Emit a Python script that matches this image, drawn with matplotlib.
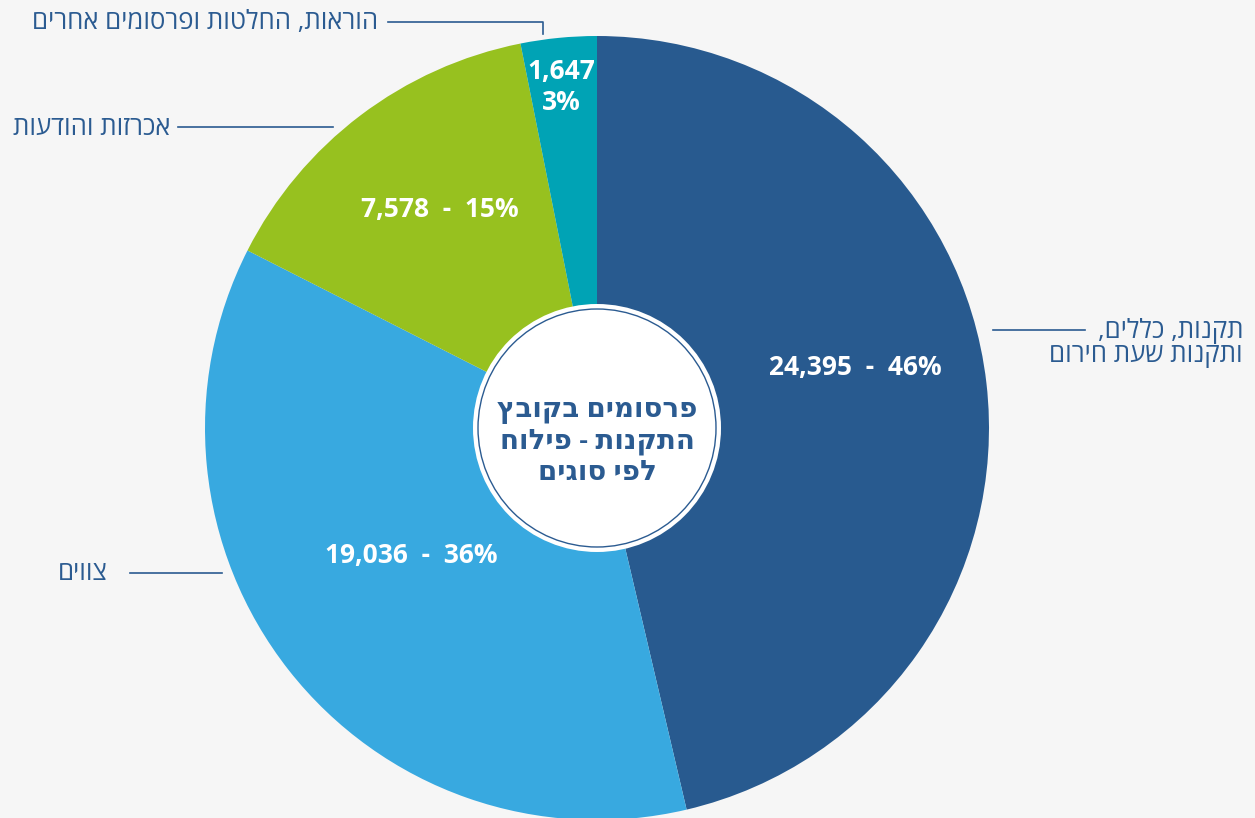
import matplotlib.pyplot as plt
from matplotlib.patches import Circle

# data
categories = ['תקנות, כללים,\nותקנות שעת חירום', 'צווים', 'אכרזות והודעות', 'הוראות, החלטות ופרסומים אחרים']
values = [24395, 19036, 7578, 1647]
percents = [46, 36, 15, 3]
colors = ['#285a8f', '#38a9e0', '#97c11f', '#00a3b5']
center_title = ['פרסומים בקובץ', 'התקנות - פילוח', 'לפי סוגים']

W, H = 1255, 818
bg = '#f6f6f6'
navy = '#2b5b91'

plt.rcParams['font.family'] = ['Open Sans', 'DejaVu Sans']


def rtl(s):
    # matplotlib has no bidi support: flip each line by hand
    return '\n'.join(line[::-1] for line in s.split('\n'))


def py(y):
    # pixel row -> data y
    return H - y


fig = plt.figure(figsize=(W / 100, H / 100), dpi=100, facecolor=bg)
ax = fig.add_axes([0, 0, 1, 1])

cx, cy, R = 597, py(428), 392
ax.pie(values, colors=colors, startangle=90, counterclock=False,
       center=(cx, cy), radius=R, frame=True,
       wedgeprops=dict(linewidth=0))
ax.set_xlim(0, W)
ax.set_ylim(0, H)
ax.set_aspect('equal')
ax.axis('off')

# center hole
ax.add_patch(Circle((cx, cy), 124, facecolor='white', edgecolor='none', zorder=3))
ax.add_patch(Circle((cx, cy), 119, facecolor='white', edgecolor=navy, linewidth=1.0, zorder=4))
for i, line in enumerate(center_title):
    ax.text(cx, py(409 + i * 32), rtl(line), ha='center', va='center',
            fontsize=20, color=navy, fontweight='semibold', zorder=5)

# value labels
lbl = dict(color='white', fontsize=19, fontweight='bold', ha='center', va='center', zorder=5)
ax.text(855, py(367), f'{values[0]:,}  -  {percents[0]}%', **lbl)
ax.text(411, py(556), f'{values[1]:,}  -  {percents[1]}%', **lbl)
ax.text(440, py(209), f'{values[2]:,}  -  {percents[2]}%', **lbl)
ax.text(561, py(71), f'{values[3]:,}', **lbl)
ax.text(561, py(103), f'{percents[3]}%', **lbl)

# category labels with leader lines
txt = dict(color=navy, fontsize=18.5, va='center')
ax.plot([993, 1085], [py(330), py(330)], color=navy, lw=1.2)
ax.text(1243, py(343), rtl(categories[0]), ha='right', linespacing=0.95, **txt)

ax.plot([130, 222], [py(573), py(573)], color=navy, lw=1.2)
ax.text(108, py(574), rtl(categories[1]), ha='right', **txt)

ax.plot([178, 333], [py(127), py(127)], color=navy, lw=1.2)
ax.text(170, py(128), rtl(categories[2]), ha='right', **txt)

ax.plot([388, 543, 543], [py(22), py(22), py(34)], color=navy, lw=1.2)
ax.text(378, py(22), rtl(categories[3]), ha='right', **txt)

fig.savefig('out.png', dpi=100, facecolor=bg)
